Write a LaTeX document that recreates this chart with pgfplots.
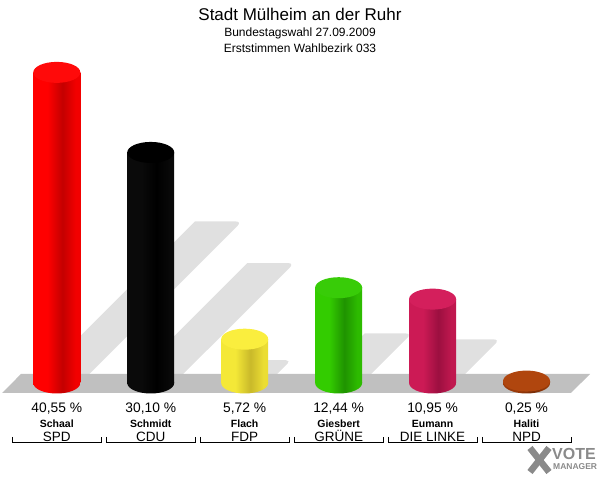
\documentclass[border=0pt]{standalone}
\usepackage{pgfplots}
\pgfplotsset{compat=1.18}
\usepackage{fontspec}
\setmainfont{Liberation Sans}

\definecolor{floorgray}{HTML}{C0C0C0}
\definecolor{shadowgray}{HTML}{E0E0E0}
\definecolor{logogray}{HTML}{8A8A8A}

\definecolor{spdL}{HTML}{FF0000}\definecolor{spdD}{HTML}{C40000}\definecolor{spdR}{HTML}{F20000}\definecolor{spdT}{HTML}{FF0A0A}
\definecolor{cduL}{HTML}{0A0A0A}\definecolor{cduD}{HTML}{000000}\definecolor{cduR}{HTML}{080808}\definecolor{cduT}{HTML}{000000}
\definecolor{fdpL}{HTML}{F4E837}\definecolor{fdpD}{HTML}{C9B92A}\definecolor{fdpR}{HTML}{EBDD33}\definecolor{fdpT}{HTML}{FAEE3E}
\definecolor{gruL}{HTML}{33CC00}\definecolor{gruD}{HTML}{1F9300}\definecolor{gruR}{HTML}{2DBB00}\definecolor{gruT}{HTML}{38CC08}
\definecolor{linL}{HTML}{CC1A55}\definecolor{linD}{HTML}{9C0F40}\definecolor{linR}{HTML}{C0184F}\definecolor{linT}{HTML}{D41F5C}
\definecolor{npdL}{HTML}{9A3A0A}\definecolor{npdD}{HTML}{7A2E08}\definecolor{npdR}{HTML}{923808}\definecolor{npdT}{HTML}{B0460E}

\newcommand\cylshade[1]{%
  \pgfdeclarehorizontalshading{sh#1}{100bp}{color(0bp)=(#1L); color(40bp)=(#1L); color(56bp)=(#1D); color(70bp)=(#1R); color(100bp)=(#1R)}%
  \pgfdeclareplotmark{bot#1}{\pgfpathellipse{\pgfpointorigin}{\pgfqpoint{23.5pt}{0pt}}{\pgfqpoint{0pt}{10.5pt}}\pgfshadepath{sh#1}{0}\pgfusepath{discard}}}
\cylshade{spd}\cylshade{cdu}\cylshade{fdp}\cylshade{gru}\cylshade{lin}\cylshade{npd}
\pgfdeclareplotmark{cyltop}{\pgfpathellipse{\pgfpointorigin}{\pgfqpoint{23.5pt}{0pt}}{\pgfqpoint{0pt}{10.5pt}}\pgfusepathqfill}

\newcommand\lab[3]{{\fontsize{13.8}{15}\selectfont #1}\\[0pt]{\fontsize{10.5}{12}\selectfont\bfseries #2}\\[-1pt]{\fontsize{13.5}{14}\selectfont #3}}

\begin{document}
\begin{tikzpicture}
\begin{axis}[
  name=ax,
  x=93.95pt, y=7.66pt,
  xmin=-0.6046, xmax=5.782, ymin=-12.663, ymax=50.0,
  axis line style={draw=none},
  tick style={draw=none},
  major tick length=0pt,
  ytick=\empty,
  xtick={0,1,2,3,4,5},
  xticklabels={{\lab{40,55 \%}{Schaal}{SPD}},{\lab{30,10 \%}{Schmidt}{CDU}},{\lab{5,72 \%}{Flach}{FDP}},{\lab{12,44 \%}{Giesbert}{GRÜNE}},{\lab{10,95 \%}{Eumann}{DIE LINKE}},{\lab{0,25 \%}{Haliti}{NPD}}},
  xticklabel style={anchor=north, inner sep=0pt, yshift=77pt, align=center, font=\fontsize{14}{15}\selectfont},
  clip=false,
]
% shadows
\addplot[fill=shadowgray, draw=none, rounded corners=6pt] coordinates {(-0.250,0) (0.250,0) (1.970,21.09) (1.470,21.09)};
\addplot[fill=shadowgray, draw=none, rounded corners=6pt] coordinates {(0.750,0) (1.250,0) (2.527,15.65) (2.027,15.65)};
\addplot[fill=shadowgray, draw=none, rounded corners=5pt] coordinates {(1.750,0) (2.250,0) (2.493,2.97) (1.993,2.97)};
\addplot[fill=shadowgray, draw=none, rounded corners=6pt] coordinates {(2.750,0) (3.250,0) (3.778,6.47) (3.278,6.47)};
\addplot[fill=shadowgray, draw=none, rounded corners=6pt] coordinates {(3.750,0) (4.250,0) (4.715,5.69) (4.215,5.69)};
% floor
\addplot[fill=floorgray, draw=none] coordinates {(-0.583,-1.305) (5.473,-1.305) (5.676,1.175) (-0.381,1.175)};
% cylinders
\addplot[only marks, mark=botspd] coordinates {(0,0)};
\addplot[ybar, bar width=47pt, bar shift=0pt, draw=none, shade, shading=shspd] coordinates {(0,40.55)};
\addplot[only marks, mark=cyltop, mark options={fill=spdT, draw=none}] coordinates {(0,40.55)};

\addplot[only marks, mark=botcdu] coordinates {(1,0)};
\addplot[ybar, bar width=47pt, bar shift=0pt, draw=none, shade, shading=shcdu] coordinates {(1,30.10)};
\addplot[only marks, mark=cyltop, mark options={fill=cduT, draw=none}] coordinates {(1,30.10)};

\addplot[only marks, mark=botfdp] coordinates {(2,0)};
\addplot[ybar, bar width=47pt, bar shift=0pt, draw=none, shade, shading=shfdp] coordinates {(2,5.72)};
\addplot[only marks, mark=cyltop, mark options={fill=fdpT, draw=none}] coordinates {(2,5.72)};

\addplot[only marks, mark=botgru] coordinates {(3,0)};
\addplot[ybar, bar width=47pt, bar shift=0pt, draw=none, shade, shading=shgru] coordinates {(3,12.44)};
\addplot[only marks, mark=cyltop, mark options={fill=gruT, draw=none}] coordinates {(3,12.44)};

\addplot[only marks, mark=botlin] coordinates {(4,0)};
\addplot[ybar, bar width=47pt, bar shift=0pt, draw=none, shade, shading=shlin] coordinates {(4,10.95)};
\addplot[only marks, mark=cyltop, mark options={fill=linT, draw=none}] coordinates {(4,10.95)};

\addplot[only marks, mark=botnpd] coordinates {(5,0)};
\addplot[ybar, bar width=47pt, bar shift=0pt, draw=none, shade, shading=shnpd] coordinates {(5,0.25)};
\addplot[only marks, mark=cyltop, mark options={fill=npdT, draw=none}] coordinates {(5,0.25)};

% brackets
\draw[line width=0.9pt] (axis cs:-0.474,-7.03) -- (axis cs:-0.474,-7.82) -- (axis cs:0.474,-7.82) -- (axis cs:0.474,-7.03);
\draw[line width=0.9pt] (axis cs:0.526,-7.03) -- (axis cs:0.526,-7.82) -- (axis cs:1.474,-7.82) -- (axis cs:1.474,-7.03);
\draw[line width=0.9pt] (axis cs:1.526,-7.03) -- (axis cs:1.526,-7.82) -- (axis cs:2.474,-7.82) -- (axis cs:2.474,-7.03);
\draw[line width=0.9pt] (axis cs:2.526,-7.03) -- (axis cs:2.526,-7.82) -- (axis cs:3.474,-7.82) -- (axis cs:3.474,-7.03);
\draw[line width=0.9pt] (axis cs:3.526,-7.03) -- (axis cs:3.526,-7.82) -- (axis cs:4.474,-7.82) -- (axis cs:4.474,-7.03);
\draw[line width=0.9pt] (axis cs:4.526,-7.03) -- (axis cs:4.526,-7.82) -- (axis cs:5.474,-7.82) -- (axis cs:5.474,-7.03);
\end{axis}
% titles
\node[anchor=base, inner sep=0pt, font=\fontsize{17}{17}\selectfont] at (300pt,459pt) {Stadt Mülheim an der Ruhr};
\node[anchor=base, inner sep=0pt, font=\fontsize{12}{12}\selectfont] at (300pt,443pt) {Bundestagswahl 27.09.2009};
\node[anchor=base, inner sep=0pt, font=\fontsize{12}{12}\selectfont] at (300pt,427pt) {Erststimmen Wahlbezirk 033};
% logo
\draw[line width=6.5pt, logogray] (530pt,32pt) -- (549pt,8pt);
\draw[line width=6.5pt, logogray] (549pt,32pt) -- (530pt,8pt);
\node[anchor=base west, inner sep=0pt, text=logogray, font=\bfseries\fontsize{16}{16}\selectfont] at (552pt,20pt) {VOTE};
\node[anchor=base west, inner sep=0pt, text=logogray, font=\bfseries\fontsize{8.5}{8.5}\selectfont] at (553pt,10pt) {MANAGER};
\pgfresetboundingbox
\path[use as bounding box] (ax.south west) rectangle (ax.north east);
\end{tikzpicture}
\end{document}
